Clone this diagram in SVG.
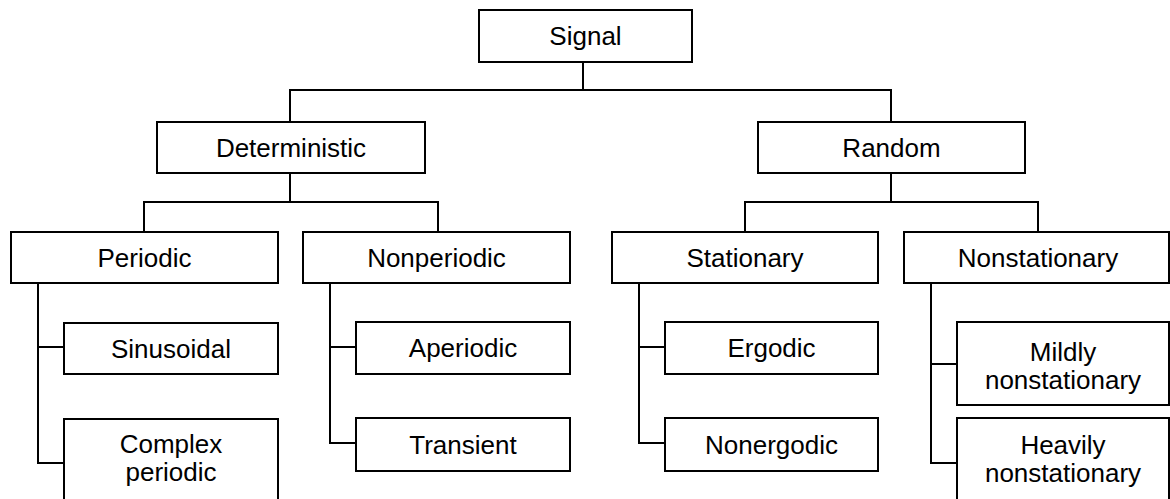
<svg xmlns="http://www.w3.org/2000/svg" width="1170" height="499" viewBox="0 0 1170 499">
<style>
rect{fill:#fff;stroke:#000;stroke-width:2}
text{font-family:"Liberation Sans",Arial,sans-serif;font-size:26px;text-anchor:middle;fill:#000}
#connectors path{fill:none;stroke:#000;stroke-width:2}
</style>
<rect x="0" y="0" width="1170" height="499" style="stroke:none"/>
<g id="connectors">
<path d="M583,62V90M290,122V90H891V122"/>
<path d="M290,173V202M144,232V202H438V232"/>
<path d="M891,173V202M745,232V202H1038V232"/>
<path d="M38,283V463H64M38,347H64"/>
<path d="M330,283V443H356M330,347H356"/>
<path d="M639,283V443H665M639,347H665"/>
<path d="M931,283V463H957M931,364H957"/>
</g>
<g id="signal"><rect x="479" y="10" width="213" height="52"/><text x="585.5" y="45">Signal</text></g>
<g id="deterministic"><rect x="157" y="122" width="268" height="51"/><text x="291" y="157">Deterministic</text></g>
<g id="random"><rect x="758" y="122" width="267" height="51"/><text x="891.5" y="157">Random</text></g>
<g id="periodic"><rect x="11" y="232" width="267" height="51"/><text x="144.5" y="267">Periodic</text></g>
<g id="nonperiodic"><rect x="303" y="232" width="267" height="51"/><text x="436.5" y="267">Nonperiodic</text></g>
<g id="stationary"><rect x="612" y="232" width="266" height="51"/><text x="745" y="267">Stationary</text></g>
<g id="nonstationary"><rect x="904" y="232" width="265" height="51"/><text x="1038" y="267">Nonstationary</text></g>
<g id="sinusoidal"><rect x="64" y="323" width="214" height="51"/><text x="171" y="358">Sinusoidal</text></g>
<g id="complex"><rect x="64" y="419" width="214" height="100"/><text x="171" y="453">Complex</text><text x="171" y="481">periodic</text></g>
<g id="aperiodic"><rect x="356" y="322" width="214" height="52"/><text x="463" y="357">Aperiodic</text></g>
<g id="transient"><rect x="356" y="418" width="214" height="53"/><text x="463" y="454">Transient</text></g>
<g id="ergodic"><rect x="665" y="322" width="213" height="52"/><text x="771.5" y="357">Ergodic</text></g>
<g id="nonergodic"><rect x="665" y="418" width="213" height="53"/><text x="771.5" y="454">Nonergodic</text></g>
<g id="mildly"><rect x="957" y="322" width="212" height="83"/><text x="1063" y="361">Mildly</text><text x="1063" y="389">nonstationary</text></g>
<g id="heavily"><rect x="957" y="418" width="212" height="100"/><text x="1063" y="454">Heavily</text><text x="1063" y="482">nonstationary</text></g>
</svg>
